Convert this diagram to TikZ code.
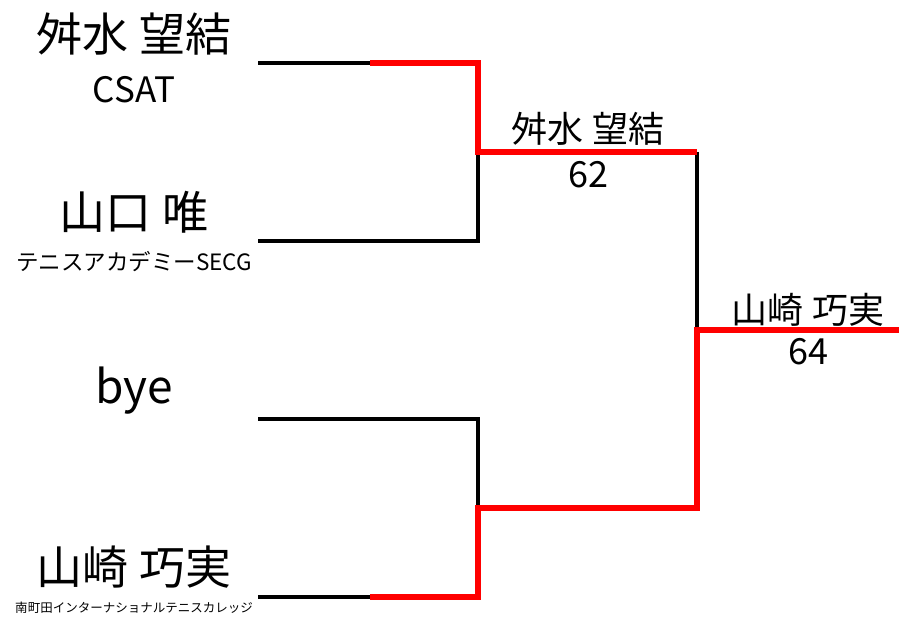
\documentclass[tikz,border=0pt]{standalone}
\usepackage{fontspec}
\setmainfont{Noto Sans CJK JP}
\usetikzlibrary{arrows.meta}

\begin{document}
\begin{tikzpicture}[x=1pt,y=-1pt]
    \useasboundingbox (0,0) rectangle (899,617);

    % players
    \begin{scope}[every node/.style={inner sep=0pt,font=\fontsize{46}{46}\selectfont}]
        \node (P1) at (134,34) {舛水 望結};
        \node (P2) at (134,212) {山口 唯};
        \node (P3) at (134,391) {bye};
        \node (P4) at (134,567) {山崎 巧実};
    \end{scope}
    \node[inner sep=0pt,font=\fontsize{35}{35}\selectfont] (C1) at (134,90) {CSAT};
    \node[inner sep=0pt,font=\fontsize{22.5}{22.5}\selectfont] (C2) at (134,262) {テニスアカデミーSECG};
    \node[inner sep=0pt,font=\fontsize{12.5}{12.5}\selectfont] (C4) at (134,608) {南町田インターナショナルテニスカレッジ};

    % bracket points
    \coordinate (A) at (258,63);
    \coordinate (B) at (258,241);
    \coordinate (C) at (258,419);
    \coordinate (D) at (258,597);
    \coordinate (Ar) at (370,63);
    \coordinate (Dr) at (370,597);
    \coordinate (Ac) at (478,63);
    \coordinate (Bc) at (478,241);
    \coordinate (Cc) at (478,419);
    \coordinate (Dc) at (478,597);
    \coordinate (E) at (478,152);
    \coordinate (F) at (478,508);
    \coordinate (Ec) at (697,152);
    \coordinate (Fc) at (697,508);
    \coordinate (G) at (697,330);
    \coordinate (H) at (899,330);

    \begin{scope}[every path/.style={draw=black,line width=3.3pt,line join=miter}]
        \path (A) -- (Ar);
        \path (B) -- (Bc) -- (E);
        \path (C) -- (Cc) -- (F);
        \path (D) -- (Dr);
        \path (Ec) -- (G);
    \end{scope}

    \begin{scope}[every path/.style={draw=red,line width=6.5pt,line join=miter}]
        \path (Ar) -- (Ac) -- (E) -- (Ec);
        \path (Dr) -- (Dc) -- (F) -- (Fc) -- (G) -- (H);
    \end{scope}

    % winners
    \begin{scope}[every node/.style={inner sep=0pt,font=\fontsize{36}{36}\selectfont}]
        \node (W1) at (588,129) {舛水 望結};
        \node (S1) at (588,175) {62};
        \node (W2) at (808,310) {山崎 巧実};
        \node (S2) at (808,352) {64};
    \end{scope}
\end{tikzpicture}
\end{document}
